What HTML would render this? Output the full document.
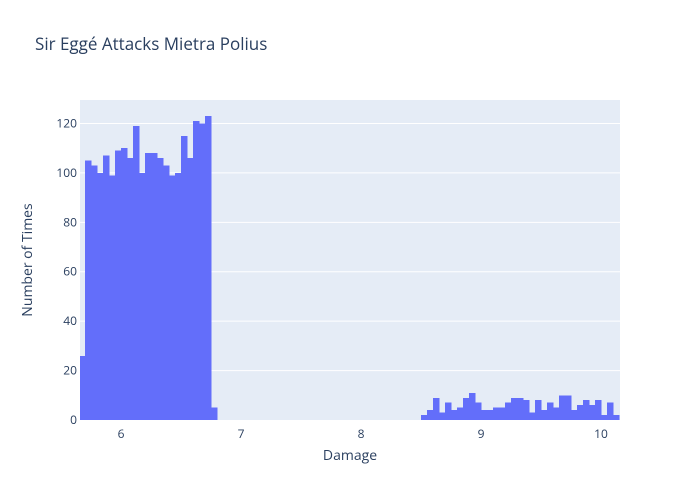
<!DOCTYPE html>
<html><head><meta charset="utf-8"><style>
body{margin:0;background:#fff}
svg{font-family:"Open Sans","Liberation Sans",sans-serif;display:block}
</style></head><body>
<svg id="chart" width="700" height="500">
<rect x="0" y="0" width="700" height="500" fill="#fff"/>
<rect x="80" y="100" width="540" height="320" fill="#e5ecf6"/>
<g id="grid"></g>
<g id="bars" shape-rendering="crispEdges"></g>
<g id="axes"></g>
<text x="35" y="50" font-size="17" fill="#2a3f5f">Sir Eggé Attacks Mietra Polius</text>
<text x="350" y="460" font-size="14" fill="#2a3f5f" text-anchor="middle">Damage</text>
<text x="0" y="0" font-size="14" fill="#2a3f5f" text-anchor="middle" transform="translate(32,260) rotate(-90)">Number of Times</text>
</svg>
<script>
const binStart = 5.65;
const binWidth = 0.05;
const countsLow = [26,105,103,100,107,99,109,110,106,119,100,108,108,106,103,99,100,115,106,121,120,123,5];
const highStart = 8.5;
const countsHigh = [2,4,9,3,7,4,5,9,11,7,4,4,5,5,7,9,9,8,3,8,4,7,5,10,10,4,6,8,6,8,2,7,2];
const xTicks = [6,7,8,9,10];
const yTicks = [0,20,40,60,80,100,120];
const xMin = 5.658, xMax = 10.158, yMax = 129.5;
const L=80,R=620,T=100,B=420;
const sx = v => L + (v - xMin) / (xMax - xMin) * (R - L);
const sy = v => B - v / yMax * (B - T);
const NS = "http://www.w3.org/2000/svg";
function mk(tag, attrs, parent){const e=document.createElementNS(NS,tag);for(const k in attrs)e.setAttribute(k,attrs[k]);parent.appendChild(e);return e;}
const grid=document.getElementById('grid'), bars=document.getElementById('bars'), axes=document.getElementById('axes');
yTicks.forEach(t=>{
  if(t>0){const g=mk('line',{x1:L,x2:R,y1:sy(t),y2:sy(t),stroke:'#fff','stroke-width':1},grid);
  
  }
  const lb=mk('text',{x:L-3,y:sy(t)+4,'font-size':12,fill:'#2a3f5f','text-anchor':'end'},axes);
  lb.textContent=t;
  
  
});
xTicks.forEach(t=>{
  const lb=mk('text',{x:sx(t),y:B+18,'font-size':12,fill:'#2a3f5f','text-anchor':'middle'},axes);
  lb.textContent=t;
  
  
});
function draw(start, counts){
  counts.forEach((c,i)=>{
    let x0=Math.max(sx(start+i*binWidth),L), x1=Math.min(sx(start+(i+1)*binWidth),R);
    if(x1<=x0) return;
    const r=mk('rect',{x:x0,y:sy(c),width:x1-x0+0.3,height:B-sy(c),fill:'#636efa'},bars);
    
    
  });
}
draw(binStart,countsLow);
draw(highStart,countsHigh);
</script>
</body></html>
